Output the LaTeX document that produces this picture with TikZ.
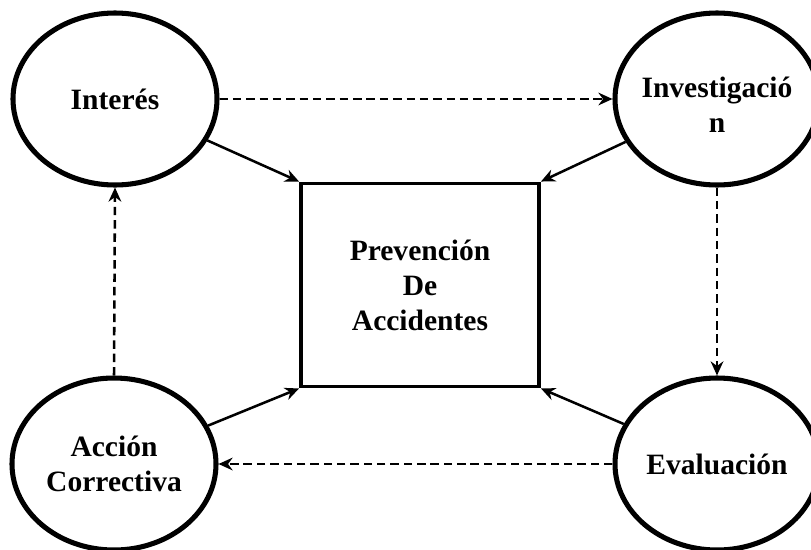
\documentclass[tikz,border=0pt]{standalone}
\usepackage{fontspec}
\setmainfont{Liberation Serif}
\usetikzlibrary{shapes.geometric,arrows.meta}

\begin{document}
\begin{tikzpicture}[
  bubble/.style={draw,ellipse,line width=3.6pt,minimum width=5.1cm,minimum height=4.3cm},
  caja/.style={draw,rectangle,line width=2.8pt,minimum width=5.95cm,minimum height=5.075cm},
  rotulo/.style={align=center,font=\bfseries\fontsize{21}{24.9}\selectfont},
  flecha/.style={line width=1.8pt,-{Stealth[length=10pt,width=9pt]}},
  punteada/.style={flecha,dash pattern=on 6pt off 3.5pt}]
\useasboundingbox (0,0) rectangle (20.275,13.725);
\node[caja] (prev) at (10.5,6.6) {};
\node[rotulo] (tprev) at (prev) {Prevención\\De\\Accidentes};
\node[bubble] (int) at (2.875,11.25) {};
\node[rotulo] (tint) at (int) {Interés};
\node[bubble] (inv) at (17.925,11.25) {};
\node[rotulo] (tinv) at (17.925,11.1) {Investigació\\n};
\node[bubble] (acc) at (2.85,2.125) {};
\node[rotulo] (tacc) at (acc) {Acción\\Correctiva};
\node[bubble] (eva) at (17.925,2.125) {};
\node[rotulo] (teva) at (eva) {Evaluación};
% hacia el centro
\draw[flecha] (int) -- (prev.north west);
\draw[flecha] (inv) -- (prev.north east);
\draw[flecha] (acc) -- (prev.south west);
\draw[flecha] (eva) -- (prev.south east);
% ciclo
\draw[punteada] (int.east) -- (inv.west);
\draw[punteada] (inv.south) -- (eva.north);
\draw[punteada] (eva.west) -- (acc.east);
\draw[punteada] (acc.north) -- (int.south);
\end{tikzpicture}
\end{document}
